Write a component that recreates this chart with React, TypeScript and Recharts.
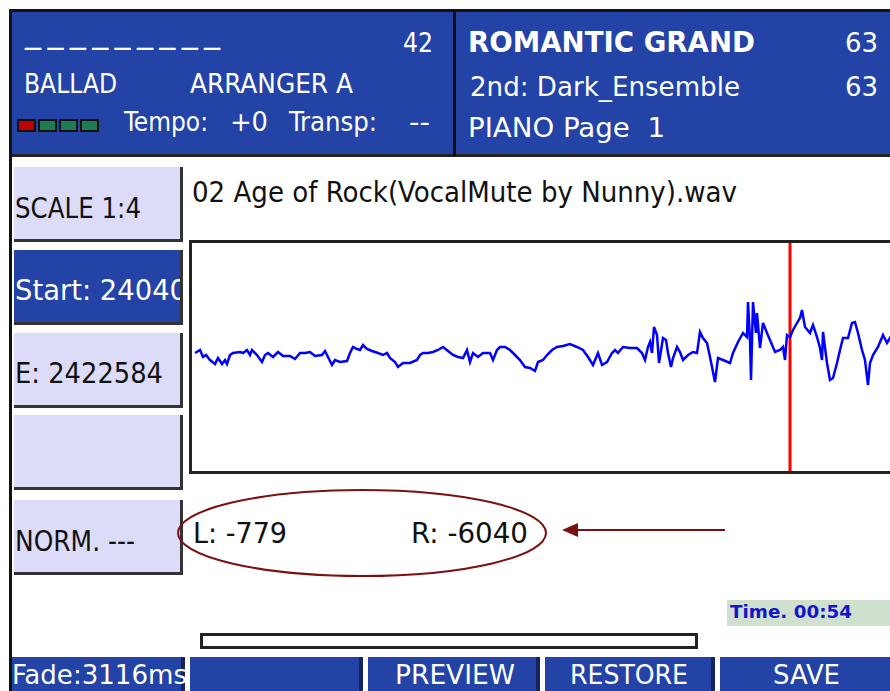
import React from 'react';
import { LineChart, Line, XAxis, YAxis, ReferenceLine } from 'recharts';

// waveform samples (position inside the view, amplitude)
const wavePos = [
  3, 8, 11, 14, 18, 23, 26, 30, 33, 35, 38, 41, 48, 51, 55, 58, 60, 65, 70, 73, 76, 81, 86, 91, 98, 103, 108, 113, 118,
  123, 130, 133, 136, 140, 143, 148, 155, 158, 161, 165, 168, 171, 175, 180, 186, 191, 195, 198, 203, 206, 211, 218, 225,
  228, 231, 236, 241, 246, 251, 256, 261, 266, 271, 275, 278, 281, 286, 291, 298, 301, 305, 308, 313, 318, 323, 328, 333,
  338, 343, 346, 351, 355, 360, 365, 371, 378, 385, 391, 396, 401, 406, 410, 415, 420, 423, 426, 431, 438, 445, 450, 453,
  456, 458, 460, 462, 465, 467, 471, 474, 476, 479, 481, 485, 488, 491, 496, 501, 505, 508, 511, 515, 518, 523, 526, 531,
  538, 541, 546, 551, 555, 556, 558, 559, 561, 564, 565, 568, 571, 575, 578, 583, 588, 591, 593, 595, 598, 601, 605, 608,
  610, 613, 618, 621, 625, 628, 630, 631, 635, 638, 641, 645, 648, 651, 656, 660, 663, 666, 670, 673, 676, 678, 681, 686,
  691, 695, 698, 702,
];
const waveAmp = [
  4, 7, 0, 2, -3, -7, -1, -7, -3, -7, 2, 4, 5, 4, 7, 2, 7, 2, -5, 2, 4, 0, 5, 1, 1, -2, 4, 4, 5,
  1, 2, 6, 0, -8, -3, -5, -4, 4, 10, 8, 7, 12, 8, 6, 4, 2, 4, -1, -5, -10, -6, -6, -3,
  2, 4, 4, 5, 7, 10, 6, 2, 0, -1, 7, -5, 4, 0, 4, 4, -3, 7, 10, 10, 7, 2, -3, -10,
  -11, -14, -5, -3, 2, 7, 10, 11, 13, 10, 7, 0, -8, 4, -8, -5, 4, 7, 4, 10, 9, 9, 4, -3,
  10, 15, 4, 30, 22, -6, 19, 17, 4, -10, -1, 10, 5, -3, 2, 5, 4, 25, 19, 14, 0, -25, -1, -3,
  -6, 4, 15, 24, 20, 55, 17, -23, 55, 24, 44, 9, 34, 24, 17, 5, 7, 10, -3, 22, 20, 27, 34, 39,
  47, 30, 24, 32, 20, 9, -3, 25, -6, -23, -21, -6, 7, 19, 19, 34, 35, 24, 7, -3, -28, -6, 2, 10,
  22, 14, 19, 15,
];
const cursorPos = 598;

const leftButtons = ['SCALE 1:4', 'Start: 24040', 'E: 2422584', '', 'NORM. ---'];
const bottomButtons = ['Fade:3116ms', '', 'PREVIEW', 'RESTORE', 'SAVE'];
const ledColors = ['#C00000', '#1E7A50', '#1E7A50', '#1E7A50'];

const waveData = wavePos.map((t, i) => ({ t, amp: waveAmp[i] }));

const BLUE = '#2343A7';
const FONT = '"DejaVu Sans Condensed", "DejaVu Sans", sans-serif';

// svg text squeezed to the width it has on the device screen
const T = ({ x, y, w, size = 26, fill = '#fff', bold = false, adjust = 'spacingAndGlyphs', family = FONT, children }: any) => (
  <text
    x={x}
    y={y}
    textLength={w}
    lengthAdjust={adjust}
    fontSize={size}
    fontFamily={family}
    fontWeight={bold ? 'bold' : 'normal'}
    fill={fill}
    style={{ whiteSpace: 'pre' }}
  >
    {children}
  </text>
);

const App = () => {
  const btnTops = [167, 250, 333, 415, 500];
  const btnTextY = [218, 300, 383, 0, 551];
  const btnTextW = [126, 172, 148, 0, 120];
  const bottomLefts = [12, 190, 368, 545, 720];
  const bottomWidths = [173, 173, 172, 170, 175];
  const bottomTextX = [12, 0, 395, 570, 773];
  const bottomTextW = [175, 0, 120, 118, 67];

  return (
    <div style={{ position: 'absolute', left: 0, top: 0, width: 890, height: 691, background: '#fff', overflow: 'hidden' }}>
      {/* header */}
      <div style={{ position: 'absolute', left: 9, top: 9, width: 890, height: 148, background: BLUE, borderTop: '3px solid #111', borderBottom: '3px solid #222', boxSizing: 'border-box' }} />
      <div style={{ position: 'absolute', left: 453, top: 10, width: 3, height: 146, background: '#111' }} />
      <div style={{ position: 'absolute', left: 9, top: 9, width: 3, height: 682, background: '#111' }} />
      {ledColors.map((c, i) => (
        <div key={i} style={{ position: 'absolute', left: 17 + i * 21, top: 119, width: 19, height: 13, background: c, border: '2px solid #111', boxSizing: 'border-box' }} />
      ))}

      {/* left buttons */}
      {leftButtons.map((label, i) => {
        const active = i === 1;
        return (
          <div key={i} style={{ position: 'absolute', left: 14, top: btnTops[i], width: 169, height: 75, background: active ? BLUE : '#DCDCF8', borderRight: '3px solid #333', borderBottom: '3px solid #333', boxSizing: 'border-box', overflow: 'hidden' }}>
            {label && (
              <svg width={166} height={72} style={{ position: 'absolute', left: 0, top: 0 }}>
                <T x={1} y={btnTextY[i] - btnTops[i]} w={btnTextW[i]} size={29} fill={active ? '#fff' : '#111'}>{label}</T>
              </svg>
            )}
          </div>
        );
      })}

      {/* waveform */}
      <div style={{ position: 'absolute', left: 189, top: 240, width: 720, height: 234, border: '3px solid #222', boxSizing: 'border-box', background: '#fff' }}>
        <LineChart width={714} height={228} data={waveData} margin={{ top: 0, right: 0, bottom: 0, left: 0 }}>
          <XAxis dataKey="t" type="number" domain={[0, 714]} hide />
          <YAxis type="number" domain={[-114, 114]} hide />
          <ReferenceLine x={cursorPos} stroke="#FF0000" strokeWidth={3} />
          <Line type="linear" dataKey="amp" stroke="#0000FF" strokeWidth={2.5} dot={false} isAnimationActive={false} />
        </LineChart>
      </div>

      <div style={{ position: 'absolute', left: 727, top: 600, width: 170, height: 26, background: '#CFE0CF' }} />
      <div style={{ position: 'absolute', left: 200, top: 633, width: 498, height: 16, border: '3px solid #222', boxSizing: 'border-box', background: '#fff' }} />

      {bottomButtons.map((label, i) => (
        <div key={i} style={{ position: 'absolute', left: bottomLefts[i], top: 657, width: bottomWidths[i], height: 40, background: BLUE, borderRight: '4px solid #15245e', boxSizing: 'border-box' }} />
      ))}

      <svg style={{ position: 'absolute', left: 0, top: 0 }} width={890} height={691}>
        <T x={25} y={42} w={195} size={32} adjust="spacing" family="DejaVu Sans">_________</T>
        <T x={403} y={52} w={30}>42</T>
        <T x={24} y={93} w={93}>BALLAD</T>
        <T x={190} y={93} w={163}>ARRANGER A</T>
        <T x={124} y={131} w={84}>Tempo:</T>
        <T x={230} y={131} w={38}>+0</T>
        <T x={289} y={131} w={88}>Transp:</T>
        <T x={409} y={131} w={21}>--</T>

        <T x={468} y={52} w={287} size={28} bold>ROMANTIC GRAND</T>
        <T x={845} y={52} w={33}>63</T>
        <T x={470} y={96} w={270}>2nd: Dark_Ensemble</T>
        <T x={845} y={96} w={33}>63</T>
        <T x={468} y={137} w={197}>PIANO Page  1</T>

        <T x={192} y={202} w={545} size={28} fill="#111">02 Age of Rock(VocalMute by Nunny).wav</T>

        <T x={193} y={543} w={94} size={28} fill="#111">L: -779</T>
        <T x={411} y={543} w={117} size={28} fill="#111">R: -6040</T>
        <ellipse cx={362} cy={533} rx={184} ry={43} fill="none" stroke="#7A1010" strokeWidth={2} />
        <line x1={725} y1={530} x2={575} y2={530} stroke="#7A1010" strokeWidth={2} />
        <polygon points="562,530 578,523 578,537" fill="#7A1010" />

        <T x={730} y={618} w={122} size={18} bold fill="#1515C8">Time. 00:54</T>

        {bottomButtons.map((label, i) =>
          label ? (
            <T key={i} x={bottomTextX[i]} y={684} w={bottomTextW[i]} size={27}>{label}</T>
          ) : null
        )}
      </svg>
    </div>
  );
};

export default App;
